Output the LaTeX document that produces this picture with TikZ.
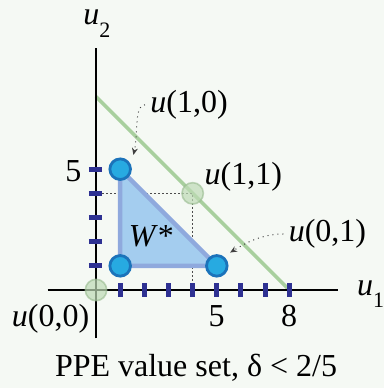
\documentclass[tikz,border=0pt]{standalone}
\usepackage{fontspec}
\setmainfont{Liberation Serif}
\usetikzlibrary{arrows.meta}

\definecolor{bgcol}{HTML}{F5F9F4}
\definecolor{budget}{HTML}{A8CF9E}
\definecolor{setfill}{HTML}{A4CDEF}
\definecolor{setedge}{HTML}{8FA9DD}
\definecolor{ptfill}{HTML}{27AAE1}
\definecolor{ptedge}{HTML}{1B73BA}
\definecolor{tickcol}{HTML}{2E3192}
\newcommand{\lowsub}[1]{\raisebox{-0.4em}{\fontsize{11}{11}\selectfont #1}}

\begin{document}
\begin{tikzpicture}[x=12.08pt,y=12.08pt,
  lab/.style={font=\fontsize{16}{19}\selectfont, inner sep=0pt, anchor=base},
  axis/.style={line width=1pt, black},
  tickmark/.style={line width=2.5pt, tickcol},
  guide/.style={line width=0.5pt, black!70, dash pattern=on 1pt off 1pt},
  callout/.style={line width=0.5pt, black!75, dotted, -{Stealth[length=3.5pt,width=3pt]}},
  pt/.style={circle, fill=ptfill, draw=ptedge, line width=1.4pt, minimum size=10.3pt, inner sep=0pt},
  gpt/.style={circle, fill=budget!75, fill opacity=0.7, draw=budget!90!black, draw opacity=0.6, line width=0.8pt, minimum size=10.7pt, inner sep=0pt}]

  \fill[bgcol] (-3.974,-4.056) rectangle (11.921,12.003);
  \useasboundingbox (-3.974,-4.056) rectangle (11.921,12.003);

  \coordinate (o) at (0,0);
  \coordinate (xl) at (-2,0);
  \coordinate (xr) at (10,0);
  \coordinate (yb) at (0,-2);
  \coordinate (yt) at (0,10);
  \coordinate (b2) at (0,8);
  \coordinate (b1) at (8,0);
  \coordinate (p10) at (1,5);
  \coordinate (p01) at (5,1);
  \coordinate (pc) at (1,1);
  \coordinate (p11) at (4,4);
  \coordinate (g2) at (0.25,4);
  \coordinate (g1) at (4,0);

  \draw[budget, line width=1.8pt] (b2) -- (b1);
  \draw[guide] (g2) -- (p11) -- (g1);

  \draw[axis] (xl) -- (xr);
  \draw[axis] (yb) -- (yt);
  \foreach \i in {1,...,8}
    \draw[tickmark] (\i,0) ++(0,-3.3pt) -- ++(0,6.6pt);
  \foreach \i in {1,...,5}
    \draw[tickmark] (0,\i) ++(-3.6pt,0) -- ++(6.6pt,0);

  \filldraw[fill=setfill, draw=setedge, line width=2.2pt, line join=round]
    (p10) -- (pc) -- (p01) -- cycle;

  \node[gpt] (u00) at (o) {};
  \node[gpt] (u11) at (p11) {};
  \node[pt] (u10) at (p10) {};
  \node[pt] (uc) at (pc) {};
  \node[pt] (u01) at (p01) {};

  \node[lab, anchor=base west] (yname) at (-0.54,10.97) {\textit{u}\lowsub{2}};
  \node[lab, anchor=base west] (xname) at (10.79,-0.21) {\textit{u}\lowsub{1}};
  \node[lab] (y5) at (-0.94,4.48) {5};
  \node[lab] (x5) at (4.99,-1.52) {5};
  \node[lab] (x8) at (7.99,-1.52) {8};
  \node[lab] (lab00) at (-1.88,-1.49) {\textit{u}(0,0)};
  \node[lab] (lab10) at (3.85,7.35) {\textit{u}(1,0)};
  \node[lab] (lab11) at (6.1,4.35) {\textit{u}(1,1)};
  \node[lab] (lab01) at (9.58,2.0) {\textit{u}(0,1)};
  \node[lab, anchor=base west] (wname) at (1.34,1.79) {\textit{W}*};
  \node[lab] (title) at (4.14,-3.60) {PPE value set, δ < 2/5};

  \draw[callout] ([xshift=-2.5pt]lab10.west) .. controls +(-0.45,0) and +(0.2,0.9) .. ([shift={(2.5pt,3pt)}]u10.north east);
  \draw[callout] ([xshift=-2.5pt]lab01.west) .. controls +(-1.0,0) and +(0.5,0.3) .. ([shift={(2.5pt,2.5pt)}]u01.north east);
\end{tikzpicture}
\end{document}
